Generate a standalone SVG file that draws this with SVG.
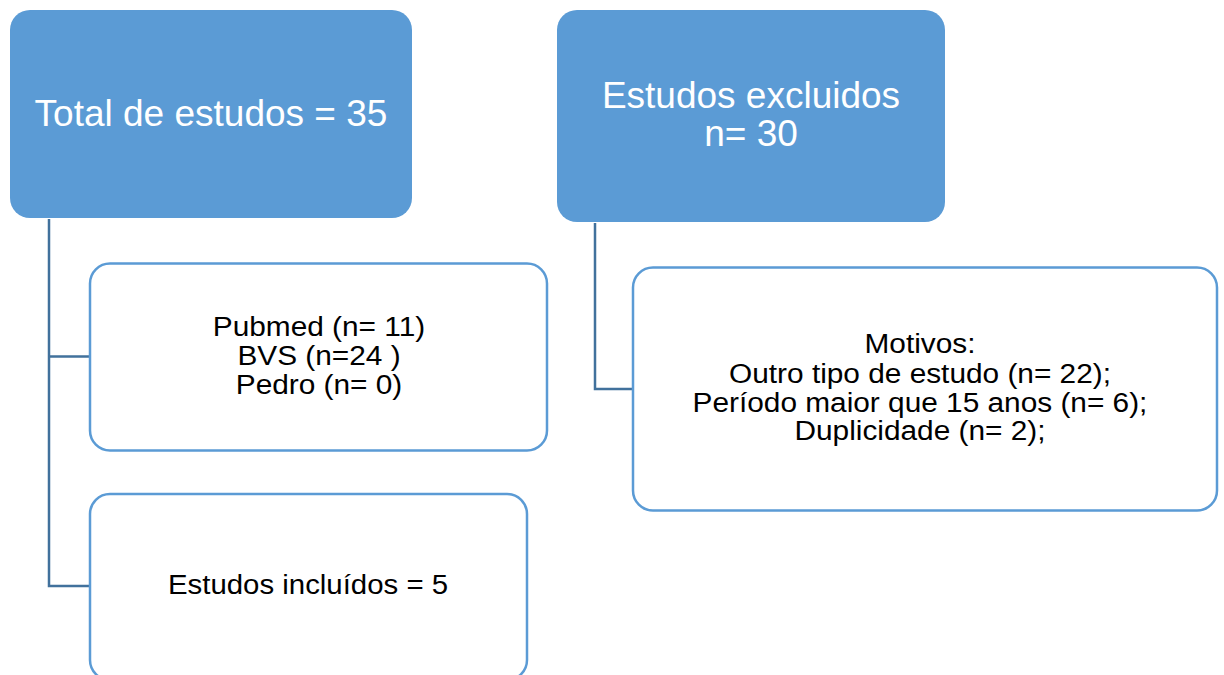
<svg xmlns="http://www.w3.org/2000/svg" width="1224" height="675" viewBox="0 0 1224 675">
<style>
.solid{fill:#5b9bd5;stroke:none}
.outline{fill:#ffffff;stroke:#5b9bd5;stroke-width:2.5}
.big{font-family:"Liberation Sans",Arial,sans-serif;font-size:37px;fill:#ffffff;text-anchor:middle}
.small{font-family:"Liberation Sans",Arial,sans-serif;font-size:28px;fill:#000000;text-anchor:middle}
.conn{fill:none;stroke:#41719c;stroke-width:2.5}
</style>
<rect x="0" y="0" width="1224" height="675" fill="#ffffff"/>
<g id="connectors">
<path class="conn" d="M49,219 V586 H90 M49,356.5 H90"/>
<path class="conn" d="M595,223 V389 H633"/>
</g>
<g id="total">
<rect class="solid" x="10" y="10" width="402" height="208" rx="20"/>
<text class="big" x="211" y="126">Total de estudos = 35</text>
</g>
<g id="excluidos">
<rect class="solid" x="557" y="10" width="388" height="212" rx="20"/>
<text class="big" x="751" y="108">Estudos excluidos</text>
<text class="big" x="751" y="146">n= 30</text>
</g>
<g id="bases">
<rect class="outline" x="90" y="263.5" width="457" height="187" rx="20"/>
<g transform="translate(319,0) scale(1.065,1)">
<text class="small" x="0" y="336">Pubmed (n= 11)</text>
<text class="small" x="0" y="365">BVS (n=24 )</text>
<text class="small" x="0" y="394">Pedro (n= 0)</text>
</g>
</g>
<g id="incluidos">
<rect class="outline" x="90" y="494" width="437" height="186" rx="20"/>
<g transform="translate(308,0) scale(1.05,1)">
<text class="small" x="0" y="594">Estudos incluídos = 5</text>
</g>
</g>
<g id="motivos">
<rect class="outline" x="633" y="267.5" width="584" height="243" rx="20"/>
<g transform="translate(920,0) scale(1.065,1)">
<text class="small" x="0" y="353">Motivos:</text>
<text class="small" x="0" y="383">Outro tipo de estudo (n= 22);</text>
<text class="small" x="0" y="412">Período maior que 15 anos (n= 6);</text>
<text class="small" x="0" y="440">Duplicidade (n= 2);</text>
</g>
</g>
</svg>
